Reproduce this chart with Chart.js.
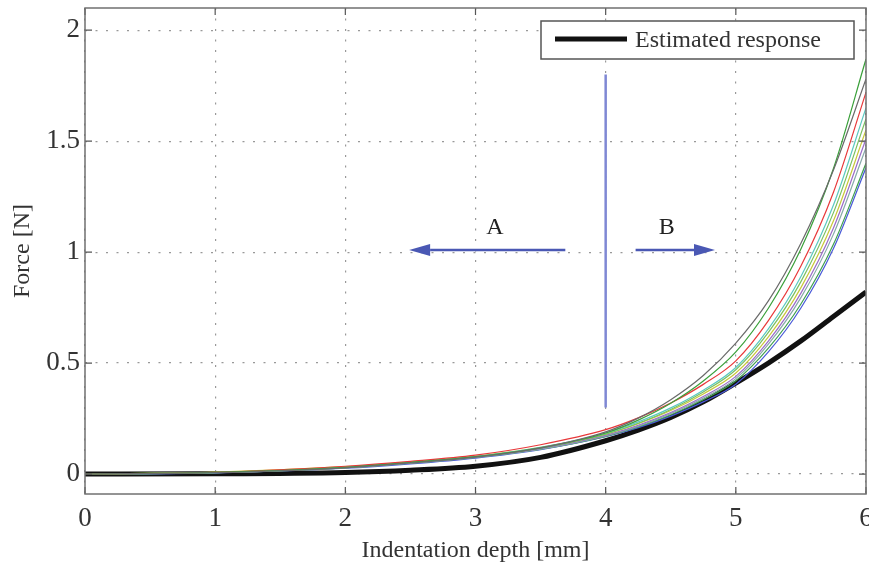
<!DOCTYPE html>
<html lang="en">
<head>
<meta charset="UTF-8">
<title>Force vs indentation depth</title>
<script src="https://cdn.jsdelivr.net/npm/chart.js"></script>
<style>
  body { margin: 0; background: #fff; }
  canvas { display: block; }
</style>
</head>
<body>
<canvas id="myChart" width="869" height="567"></canvas>
<script>
// Indentation depth samples [mm]
const depth = [0, 1, 2, 2.5, 3, 3.5, 4, 4.25, 4.5, 4.75, 5, 5.25, 5.5, 5.75, 6];

// Measured force [N], one array per indentation trial
const trial1  = [0, 0.006, 0.028, 0.050, 0.076, 0.118, 0.190, 0.252, 0.335, 0.444, 0.590, 0.780, 1.040, 1.370, 1.78];
const trial2  = [0, 0.007, 0.030, 0.052, 0.078, 0.118, 0.185, 0.243, 0.319, 0.419, 0.550, 0.747, 1.014, 1.377, 1.87];
const trial3  = [0, 0.008, 0.035, 0.057, 0.085, 0.132, 0.200, 0.253, 0.320, 0.404, 0.510, 0.691, 0.937, 1.270, 1.72];
const trial4  = [0, 0.006, 0.030, 0.051, 0.078, 0.120, 0.185, 0.235, 0.298, 0.378, 0.480, 0.654, 0.890, 1.212, 1.65];
const trial5  = [0, 0.007, 0.030, 0.051, 0.078, 0.118, 0.180, 0.229, 0.291, 0.370, 0.470, 0.638, 0.867, 1.178, 1.60];
const trial6  = [0, 0.009, 0.033, 0.054, 0.080, 0.120, 0.180, 0.227, 0.286, 0.361, 0.455, 0.618, 0.840, 1.141, 1.55];
const trial7  = [0, 0.006, 0.030, 0.050, 0.077, 0.115, 0.175, 0.220, 0.277, 0.349, 0.440, 0.599, 0.815, 1.109, 1.51];
const trial8  = [0, 0.006, 0.028, 0.049, 0.075, 0.112, 0.172, 0.216, 0.272, 0.342, 0.430, 0.585, 0.795, 1.081, 1.47];
const trial9  = [0, 0.006, 0.028, 0.049, 0.075, 0.112, 0.170, 0.213, 0.267, 0.335, 0.420, 0.567, 0.766, 1.035, 1.40];
const trial10 = [0, 0.005, 0.026, 0.046, 0.072, 0.110, 0.168, 0.209, 0.261, 0.325, 0.405, 0.550, 0.748, 1.016, 1.38];

// Model prediction [N]
const estimated = [0, 0.001, 0.007, 0.017, 0.035, 0.075, 0.150, 0.198, 0.255, 0.325, 0.410, 0.500, 0.600, 0.710, 0.82];

const trials = [trial1, trial2, trial3, trial4, trial5, trial6, trial7, trial8, trial9, trial10];
const trialColors = ['#6a6a6a', '#3aa03a', '#e8383a', '#5cc8c0', '#7ac060',
                     '#c8c83c', '#9a6cc8', '#88aaaa', '#40a050', '#4a5ad8'];

const xTicks = [0, 1, 2, 3, 4, 5, 6];
const yTicks = [0, 0.5, 1, 1.5, 2];

const serif = '"Liberation Serif", "DejaVu Serif", serif';
const textColor = '#333';

function toPoints(ys) {
    return depth.map((d, i) => ({ x: d, y: ys[i] }));
}

const datasets = trials.map((t, i) => ({
    label: 'Trial ' + (i + 1),
    data: toPoints(t),
    borderColor: trialColors[i],
    borderWidth: 1.2
}));
datasets.push({
    label: 'Estimated response',
    data: toPoints(estimated),
    borderColor: '#111',
    borderWidth: 5
});

// region divider and direction arrows
const divider = { x: 4, from: 0.3, to: 1.8 };
const arrowA = { from: 3.69, to: 2.49, y: 1.01, label: 'A', labelX: 3.15, labelY: 1.11 };
const arrowB = { from: 4.23, to: 4.84, y: 1.01, label: 'B', labelX: 4.47, labelY: 1.11 };

function drawArrow(ctx, x0, x1, y) {
    const dir = Math.sign(x1 - x0);
    const head = 21;
    ctx.beginPath();
    ctx.moveTo(x0, y);
    ctx.lineTo(x1 - dir * head, y);
    ctx.stroke();
    ctx.beginPath();
    ctx.moveTo(x1, y);
    ctx.lineTo(x1 - dir * head, y - 6);
    ctx.lineTo(x1 - dir * head, y + 6);
    ctx.closePath();
    ctx.fill();
}

const decorPlugin = {
    id: 'decor',
    afterDatasetsDraw(chart) {
        const { ctx, chartArea: a, scales: { x, y } } = chart;
        ctx.save();

        // inward tick marks on all four sides
        ctx.strokeStyle = '#555';
        ctx.lineWidth = 1.2;
        ctx.beginPath();
        xTicks.forEach(v => {
            const px = x.getPixelForValue(v);
            ctx.moveTo(px, a.bottom); ctx.lineTo(px, a.bottom - 7);
            ctx.moveTo(px, a.top); ctx.lineTo(px, a.top + 7);
        });
        yTicks.forEach(v => {
            const py = y.getPixelForValue(v);
            ctx.moveTo(a.left, py); ctx.lineTo(a.left + 7, py);
            ctx.moveTo(a.right, py); ctx.lineTo(a.right - 7, py);
        });
        ctx.stroke();

        // axes box
        ctx.strokeStyle = '#707070';
        ctx.lineWidth = 1.5;
        ctx.strokeRect(a.left, a.top, a.right - a.left, a.bottom - a.top);

        // divider line
        ctx.strokeStyle = '#7f88d4';
        ctx.lineWidth = 2.5;
        ctx.beginPath();
        ctx.moveTo(x.getPixelForValue(divider.x), y.getPixelForValue(divider.from));
        ctx.lineTo(x.getPixelForValue(divider.x), y.getPixelForValue(divider.to));
        ctx.stroke();

        // arrows with labels
        ctx.lineWidth = 2.5;
        ctx.font = '24px ' + serif;
        ctx.textAlign = 'center';
        ctx.textBaseline = 'middle';
        [arrowA, arrowB].forEach(ar => {
            ctx.strokeStyle = '#4a58b4';
            ctx.fillStyle = '#4a58b4';
            drawArrow(ctx, x.getPixelForValue(ar.from), x.getPixelForValue(ar.to), y.getPixelForValue(ar.y));
            ctx.fillStyle = '#222';
            ctx.fillText(ar.label, x.getPixelForValue(ar.labelX), y.getPixelForValue(ar.labelY));
        });

        // legend box
        ctx.fillStyle = '#fff';
        ctx.fillRect(541, 21, 313, 38);
        ctx.strokeStyle = '#555';
        ctx.lineWidth = 1.5;
        ctx.strokeRect(541, 21, 313, 38);
        ctx.strokeStyle = '#111';
        ctx.lineWidth = 5;
        ctx.beginPath();
        ctx.moveTo(555, 39);
        ctx.lineTo(627, 39);
        ctx.stroke();
        ctx.fillStyle = textColor;
        ctx.textAlign = 'left';
        ctx.fillText(datasets[datasets.length - 1].label, 635, 41);

        ctx.restore();
    }
};

new Chart(document.getElementById('myChart'), {
    type: 'line',
    data: { datasets: datasets },
    options: {
        responsive: false,
        devicePixelRatio: 1,
        animation: false,
        elements: {
            point: { radius: 0 },
            line: { cubicInterpolationMode: 'monotone', fill: false }
        },
        layout: { padding: { top: 8, right: 3, left: 0, bottom: 0 } },
        plugins: { legend: { display: false }, tooltip: { enabled: false } },
        scales: {
            x: {
                type: 'linear',
                min: 0,
                max: 6,
                afterBuildTicks: s => { s.ticks = xTicks.map(v => ({ value: v })); },
                afterFit: s => { s.height = 73; s.paddingLeft = 0; s.paddingRight = 0; },
                grid: { color: '#999', lineWidth: 1.2, drawTicks: false },
                border: { display: false, dash: [2, 8.5] },
                ticks: { padding: 9, color: textColor, font: { family: serif, size: 27 }, maxRotation: 0,
                         callback: v => String(v) },
                title: { display: true, text: 'Indentation depth [mm]', color: textColor,
                         font: { family: serif, size: 24 }, padding: { bottom: 2, top: 0 } }
            },
            y: {
                min: -0.09,
                max: 2.1,
                afterBuildTicks: s => { s.ticks = yTicks.map(v => ({ value: v })); },
                afterFit: s => { s.width = 85; s.paddingTop = 0; s.paddingBottom = 0; },
                grid: { color: '#999', lineWidth: 1.2, drawTicks: false },
                border: { display: false, dash: [2, 8.5] },
                ticks: { padding: 5, color: textColor, font: { family: serif, size: 27 },
                         callback: v => String(v) },
                title: { display: true, text: 'Force [N]', color: textColor,
                         font: { family: serif, size: 24 }, padding: { top: 8, bottom: 0 } }
            }
        }
    },
    plugins: [decorPlugin]
});
</script>
</body>
</html>
